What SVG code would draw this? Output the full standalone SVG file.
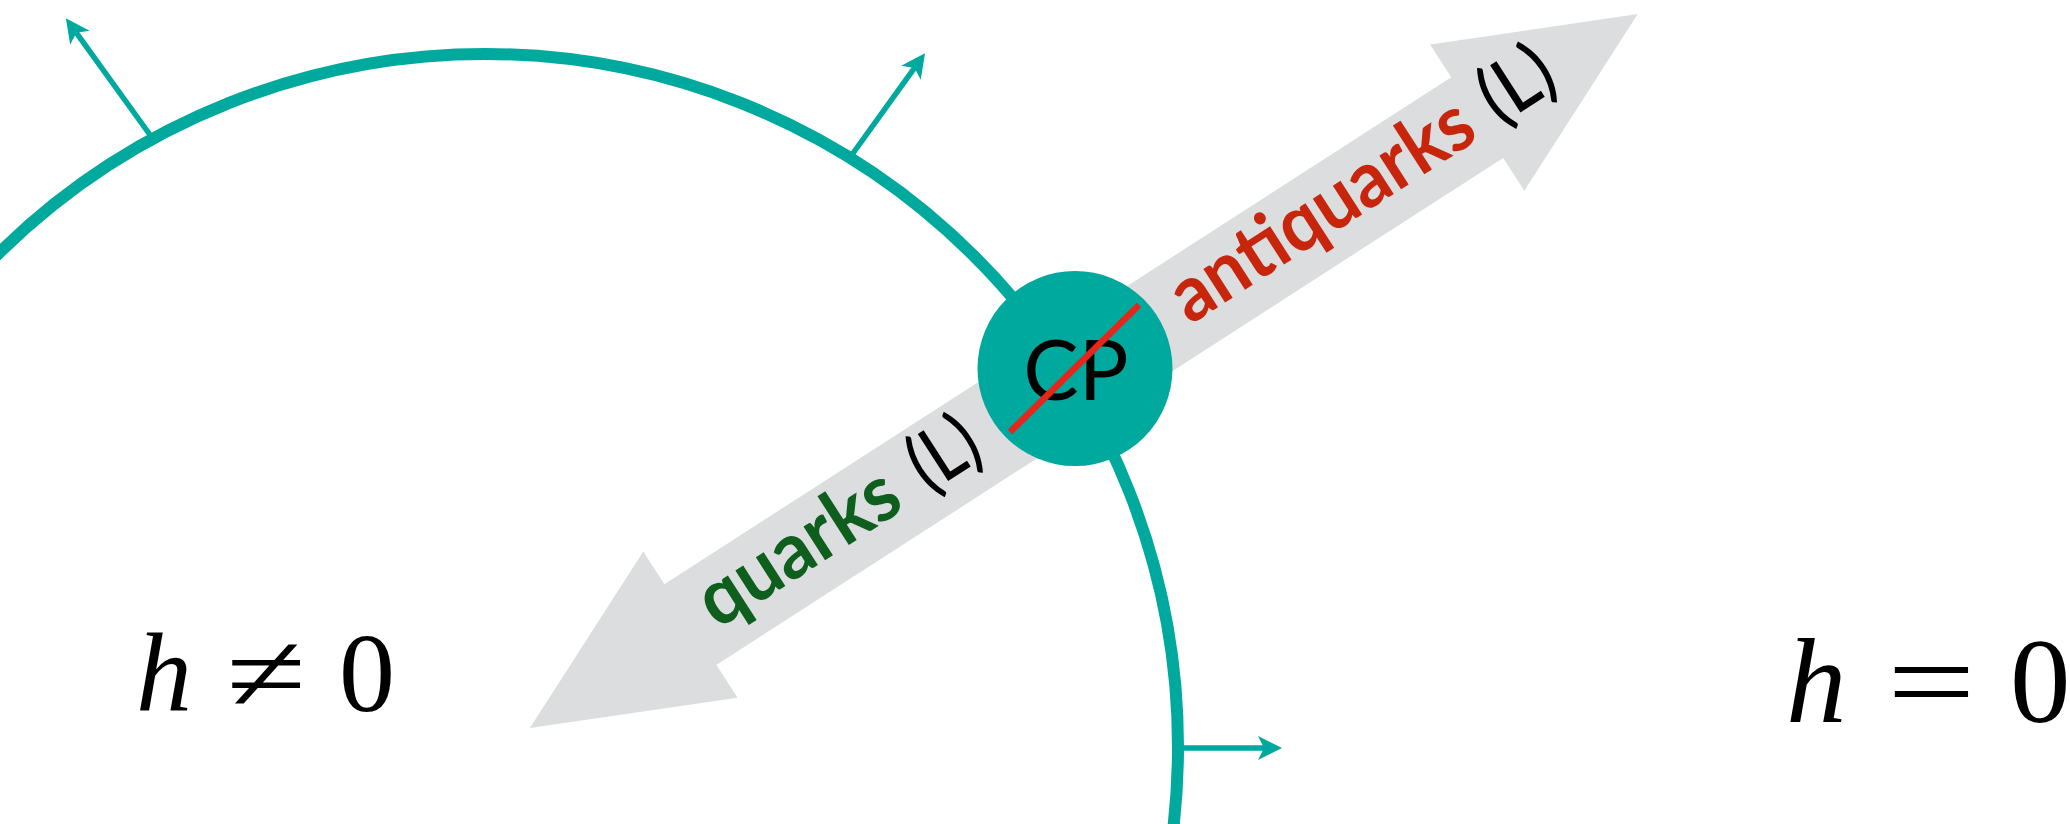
<svg xmlns="http://www.w3.org/2000/svg" width="2070" height="824" viewBox="0 0 2070 824">
  <defs>
    <marker id="tealHead" markerUnits="userSpaceOnUse" viewBox="0 0 24 24" markerWidth="24" markerHeight="24" refX="6" refY="12" orient="auto">
      <path d="M0,0 L24,12 L0,24 L6,12 Z" fill="#00a99d"/>
    </marker>
    <style>
      .teal-line { stroke: #00a99d; fill: none; }
      .normal { stroke: #00a99d; stroke-width: 5.5; fill: none; marker-end: url(#tealHead); }
      .flow { fill: #dcdddf; }
      .lab-bold { font-family: Lato, "Noto Sans", sans-serif; font-weight: 700; font-size: 78px; }
      .lab-reg { font-family: Lato, "Noto Sans", sans-serif; font-weight: 500; font-size: 78px; fill: #000; }
      .math { font-family: "Liberation Serif", serif; fill: #000; }
    </style>
  </defs>

  <g id="wall">
    <circle class="teal-line" cx="485" cy="747" r="693" stroke-width="12"/>
  </g>

  <g id="connectors">
    <line class="normal" x1="153" y1="139" x2="76.4" y2="32.8"/>
    <line class="normal" x1="851" y1="156" x2="914.5" y2="67.9"/>
    <line class="normal" x1="1176" y1="748" x2="1264" y2="748"/>
  </g>

  <g id="flow-arrow" transform="translate(487,755.7) rotate(-32.8)">
    <polygon class="flow" points="1369,0 1178,-87 1178,-48 242,-48 242,-87 51,0 242,87 242,48 1178,48 1178,87"/>
    <text class="lab-bold" x="262" y="19" fill="#0e5e1e" textLength="225" lengthAdjust="spacingAndGlyphs">quarks</text>
    <text class="lab-reg" x="513" y="19" textLength="69" lengthAdjust="spacingAndGlyphs">(L)</text>
    <text class="lab-bold" x="824" y="19" fill="#c8260c" textLength="346" lengthAdjust="spacingAndGlyphs">antiquarks</text>
    <text class="lab-reg" x="1192" y="19" textLength="74" lengthAdjust="spacingAndGlyphs">(L)</text>
  </g>

  <g id="cp-node">
    <circle cx="1075" cy="368.5" r="97.5" fill="#00a99d"/>
    <text x="1076" y="400" text-anchor="middle" font-family="Lato, 'Noto Sans', sans-serif" font-weight="400" font-size="83" fill="#000">CP</text>
    <line x1="1010" y1="432" x2="1139" y2="305" stroke="#e5261b" stroke-width="6.5"/>
  </g>

  <g id="label-broken">
    <text class="math" font-size="112" y="711"><tspan x="136" font-style="italic">h</tspan></text>
    <text class="math" font-size="112" transform="translate(226,711) scale(1.3,1)">≠</text>
    <text class="math" font-size="112" x="339" y="711">0</text>
  </g>

  <g id="label-symmetric">
    <text class="math" font-size="121" y="722"><tspan x="1786" font-style="italic">h</tspan></text>
    <text class="math" font-size="121" transform="translate(1887,722) scale(1.3,1)">=</text>
    <text class="math" font-size="121" x="2010" y="722">0</text>
  </g>
</svg>
